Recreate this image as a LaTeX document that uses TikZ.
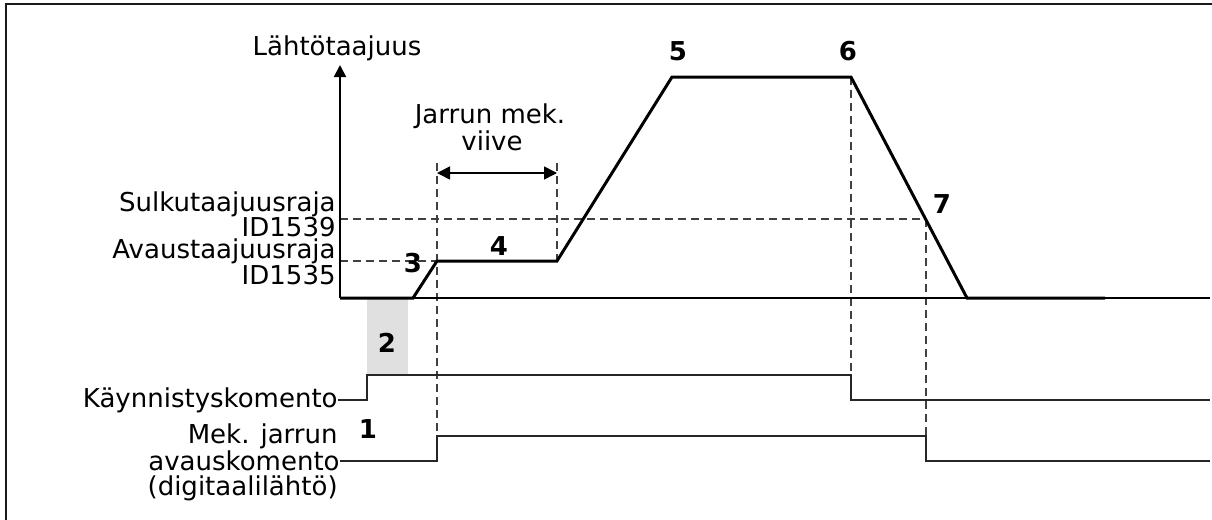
\documentclass[tikz,border=0pt]{standalone}
\usepackage{fontspec}
\setmainfont{DejaVu Sans}
\usetikzlibrary{arrows.meta}

\begin{document}
\begin{tikzpicture}[
    x=0.5pt, y=-0.5pt,
    >={Triangle[length=6pt,width=6pt]},
    font=\fontsize{13}{13.5}\selectfont,
    frame/.style={line width=1.3pt, draw=black!90},
    axis/.style={line width=1pt},
    curve/.style={line width=1.5pt, line join=miter},
    signal/.style={line width=0.8pt, draw=black!85},
    guide/.style={line width=0.8pt, draw=black!75, dash pattern=on 4pt off 2.5pt},
    span/.style={<->, line width=0.8pt, >={Triangle[length=6.5pt,width=6.5pt]}},
    lbl/.style={anchor=base east, inner sep=0pt},
    ctr/.style={anchor=base, inner sep=0pt},
    num/.style={anchor=base, inner sep=0pt, font=\fontsize{13}{13.5}\selectfont\bfseries},
]
\useasboundingbox (0,0) rectangle (1212,520);

% open frame (top and left)
\draw[frame] (6,520) -- (6,4) -- (1212,4);

% key points of the frequency curve
\coordinate (o)  at (340,298);
\coordinate (c1) at (413,298);
\coordinate (c2) at (437,261);
\coordinate (c3) at (557,261);
\coordinate (c4) at (672,77);
\coordinate (c5) at (851,77);
\coordinate (c6) at (967,298);
\coordinate (c7) at (1105,298);
\coordinate (ytop) at (340,65);
\coordinate (xend) at (1210,298);

% step signals
\coordinate (s0) at (338,400);
\coordinate (s1) at (367,400);
\coordinate (s2) at (367,375);
\coordinate (s3) at (851,375);
\coordinate (s4) at (851,400);
\coordinate (s5) at (1210,400);
\coordinate (b0) at (340,461);
\coordinate (b1) at (437,461);
\coordinate (b2) at (437,436);
\coordinate (b3) at (926,436);
\coordinate (b4) at (926,461);
\coordinate (b5) at (1210,461);

% delay 2 (grey box)
\fill[black!12] (s2) rectangle (408,298);
\node[num] (n2) at (387,352) {2};

% guide lines
\draw[guide] (o |- c2) -- (c2);
\draw[guide] (340,219) -- (926,219);
\draw[guide] (437,163) -- (b2);
\draw[guide] (557,163) -- (c3);
\draw[guide] (c5) -- (s3);
\draw[guide] (926,219) -- (b3);
\draw[span] (437,173) -- (557,173);

% axes
\draw[axis, ->] (o) -- (ytop);
\draw[axis] (o) -- (xend);

% output frequency
\draw[curve] (o) -- (c1) -- (c2) -- (c3) -- (c4) -- (c5) -- (c6) -- (c7);

\draw[signal] (s0) -- (s1) -- (s2) -- (s3) -- (s4) -- (s5);
\draw[signal] (b0) -- (b1) -- (b2) -- (b3) -- (b4) -- (b5);

% texts
\node[ctr] (ylabel) at (337,55) {Lähtötaajuus};
\node[ctr] (delay1) at (490,123) {Jarrun mek.};
\node[ctr] (delay2) at (492,150) {viive};
\node[lbl] (sulku)   at (336,211) {Sulkutaajuusraja};
\node[lbl] (sulkuid) at (336,236) {ID1539};
\node[lbl] (avaus)   at (336,258) {Avaustaajuusraja};
\node[lbl] (avausid) at (336,284) {ID1535};
\node[anchor=east, inner sep=0pt] (startlbl) at (s0) {Käynnistyskomento};
\node[lbl] (brakelbl) at (338,443) {Mek. jarrun};
\node[anchor=east, inner sep=0pt] (brakecmd) at (b0) {avauskomento};
\node[lbl] (brakeout) at (338,495) {(digitaalilähtö)};

\node[num] (n1) at (368,438) {1};
\node[num] (n3) at (413,272) {3};
\node[num] (n4) at (499,255) {4};
\node[num] (n5) at (678,60) {5};
\node[num] (n6) at (848,60) {6};
\node[num] (n7) at (942,213) {7};

\end{tikzpicture}
\end{document}
